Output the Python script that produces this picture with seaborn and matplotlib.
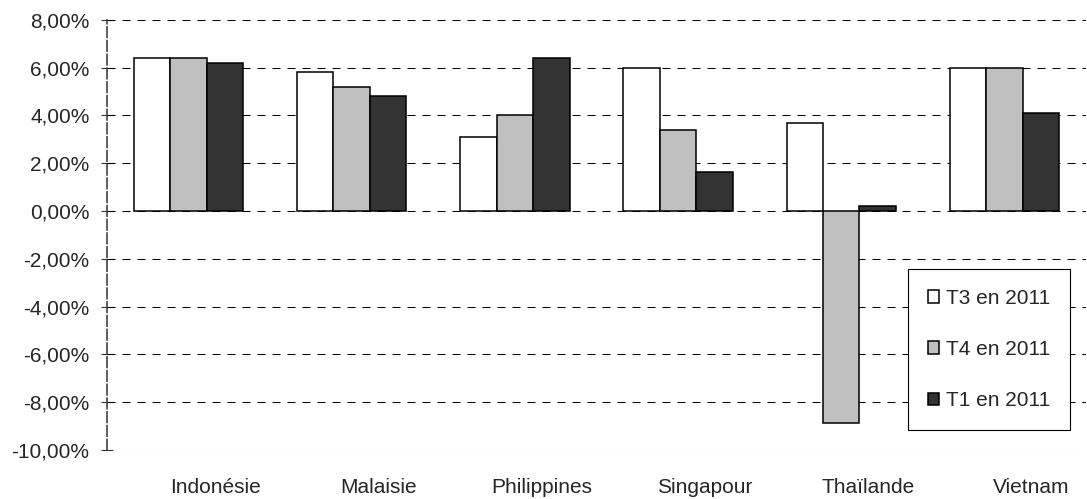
import matplotlib
matplotlib.use("Agg")
import matplotlib.pyplot as plt
from matplotlib.transforms import ScaledTranslation
from matplotlib.ticker import FuncFormatter, MultipleLocator
import seaborn as sns
import pandas as pd

# Quarterly growth rates (%) by country
pays = ["Indonésie", "Malaisie", "Philippines", "Singapour", "Thaïlande", "Vietnam"]
t3_2011 = [6.4, 5.8, 3.1, 6.0, 3.7, 6.0]
t4_2011 = [6.4, 5.2, 4.0, 3.4, -8.85, 6.0]
t1_2011 = [6.2, 4.8, 6.4, 1.65, 0.2, 4.1]
series = ["T3 en 2011", "T4 en 2011", "T1 en 2011"]
couleurs = ["#FFFFFF", "#C0C0C0", "#333333"]

df = pd.DataFrame({
    "pays": pays * 3,
    "trimestre": [series[0]] * 6 + [series[1]] * 6 + [series[2]] * 6,
    "taux": t3_2011 + t4_2011 + t1_2011,
})

sns.set_style("white")
plt.rcParams["font.family"] = ["Liberation Sans", "DejaVu Sans"]

fig = plt.figure(figsize=(10.87, 4.99), dpi=100)
ax = fig.add_axes([0.0984, 0.0982, 0.9006, 0.862])

sns.barplot(data=df, x="pays", y="taux", hue="trimestre", order=pays,
            hue_order=series, palette=couleurs, width=0.67, gap=0,
            edgecolor="black", linewidth=1.1, saturation=1,
            errorbar=None, ax=ax, zorder=3)

ax.set_ylim(-10, 8)
ax.set_xlim(-0.5, len(pays) - 0.5)
ax.yaxis.set_major_locator(MultipleLocator(2))
ax.yaxis.set_major_formatter(FuncFormatter(lambda v, p: f"{v:.2f}%".replace(".", ",")))

# dashed horizontal gridlines
for v in range(-8, 9, 2):
    ax.axhline(v, color="black", lw=0.75, ls=(0, (7.7, 6.7)), zorder=1)
ax.axhline(-10, color="#333333", lw=0.75, ls=(0, (3, 1.5)), zorder=1)

for s in ["top", "right", "bottom"]:
    ax.spines[s].set_visible(False)
ax.spines["left"].set_color("#333333")
ax.spines["left"].set_linewidth(1.1)
ax.spines["left"].set_linestyle((0, (7, 2)))

ax.tick_params(axis="y", direction="inout", length=9, width=0.8, color="#333333",
               labelsize=15, pad=8, left=True)
ax.tick_params(axis="x", length=0, labelsize=15, pad=20)
ax.set_xlabel("")
ax.set_ylabel("")

for lab in ax.get_xticklabels():
    lab.set_transform(lab.get_transform() + ScaledTranslation(0.27, 0, fig.dpi_scale_trans))

handles, labels = ax.get_legend_handles_labels()
leg = ax.legend(handles, labels, loc="upper left", bbox_to_anchor=(0.818, 0.421),
                frameon=True, fancybox=False, edgecolor="black", framealpha=1,
                fontsize=15, handlelength=0.55, handleheight=0.55, handletextpad=0.35,
                labelspacing=1.55, borderpad=0.95, borderaxespad=0)
leg.get_frame().set_linewidth(0.8)
leg.set_zorder(5)

fig.savefig("out.png", dpi=100)
